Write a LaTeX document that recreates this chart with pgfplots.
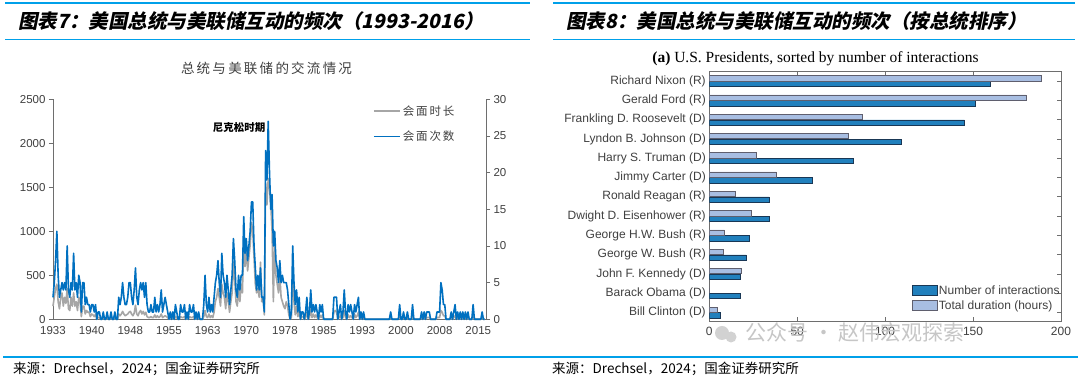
\documentclass[border=0pt]{standalone}
\usepackage{pgfplots}
\pgfplotsset{compat=1.18}
\usepackage{pgfplotstable}
\usepackage{fontspec}
\setmainfont{Liberation Sans}
\newfontfamily\cjk{Noto Sans CJK SC}
\newfontfamily\cjkh[FakeSlant=0.2]{Noto Sans CJK SC}
\newfontfamily\serif{Liberation Serif}
\definecolor{hdr}{RGB}{0,160,233}
\definecolor{labelgray}{RGB}{64,64,64}
\definecolor{axgray}{RGB}{110,110,110}
\definecolor{serblue}{RGB}{0,112,192}
\definecolor{sergray}{RGB}{166,166,166}
\definecolor{darkbar}{RGB}{33,128,189}
\definecolor{darkedge}{RGB}{25,55,85}
\definecolor{lightbar}{RGB}{168,190,226}
\definecolor{lightedge}{RGB}{95,95,110}
\pgfplotsset{
  linelegend/.style={legend image code/.code={\draw[##1] (0pt,0pt) -- (26pt,0pt);}},
  boxlegend/.style={legend image code/.code={\draw[##1] (0pt,-5pt) rectangle (25pt,5pt);}}
}
\pgfplotstableread[row sep=\\]{
dur cnt\\
150 3\\ 250 5\\ 350 8\\ 400 12\\
200 6\\ 120 3\\ 250 4\\ 300 5\\
150 4\\ 250 5\\ 180 4\\ 350 10\\
120 4\\ 100 3\\ 250 5\\ 150 4\\
300 9\\ 150 4\\ 200 5\\ 100 3\\
250 6\\ 200 5\\ 30 1\\ 150 5\\
150 5\\ 60 2\\ 100 3\\ 80 2\\
80 2\\ 30 1\\ 60 2\\ 50 2\\
30 1\\ 60 2\\ 0 0\\ 20 1\\
20 1\\ 0 0\\ 0 0\\ 20 1\\
0 0\\ 0 0\\ 20 1\\ 0 0\\
0 0\\ 20 1\\ 0 0\\ 0 0\\
20 1\\ 0 0\\ 0 0\\ 60 3\\
40 2\\ 60 3\\ 90 5\\ 60 3\\
40 2\\ 50 2\\ 60 3\\ 80 5\\
90 5\\ 60 3\\ 40 2\\ 70 4\\
160 7\\ 60 3\\ 40 2\\ 80 4\\
100 5\\ 60 4\\ 90 5\\ 50 3\\
80 5\\ 30 2\\ 20 1\\ 20 1\\
30 2\\ 20 1\\ 20 1\\ 50 3\\
20 1\\ 40 2\\ 20 1\\ 30 2\\
60 4\\ 20 1\\ 30 2\\ 40 3\\
30 2\\ 20 1\\ 0 0\\ 20 1\\
0 0\\ 20 1\\ 0 0\\ 30 2\\
20 1\\ 0 0\\ 0 0\\ 30 2\\
20 1\\ 20 1\\ 30 2\\ 0 0\\
20 1\\ 0 0\\ 30 2\\ 20 1\\
20 1\\ 30 2\\ 0 0\\ 20 1\\
0 0\\ 20 1\\ 0 0\\ 0 0\\
0 0\\ 30 2\\ 100 6\\ 30 2\\
20 1\\ 60 3\\ 20 1\\ 40 2\\
20 1\\ 80 3\\ 200 5\\ 250 6\\
350 8\\ 250 5\\ 150 3\\ 400 9\\
300 6\\ 250 5\\ 120 3\\ 300 6\\
200 4\\ 80 2\\ 200 4\\ 300 6\\
650 11\\ 450 8\\ 200 4\\ 150 3\\
350 6\\ 200 4\\ 400 6\\ 300 6\\
900 14\\ 600 9\\ 800 11\\ 550 8\\
700 10\\ 850 12\\ 1100 16\\ 1000 16\\
700 10\\ 400 7\\ 300 4\\ 350 6\\
250 4\\ 650 7\\ 200 3\\ 250 3\\
50 1\\ 1550 23\\ 1300 19\\ 1600 27\\
1500 20\\ 1300 15\\ 1000 17\\ 200 10\\
900 12\\ 500 8\\ 400 7\\ 300 5\\
500 8\\ 250 5\\ 200 6\\ 150 5\\
120 5\\ 200 5\\ 150 4\\ 50 2\\
0 0\\ 20 1\\ 500 10\\ 200 5\\
50 2\\ 150 4\\ 30 1\\ 100 3\\
0 0\\ 30 1\\ 30 1\\ 0 0\\
20 1\\ 80 3\\ 0 0\\ 20 1\\
120 4\\ 20 1\\ 60 2\\ 20 1\\
50 2\\ 20 1\\ 0 0\\ 50 2\\
20 1\\ 50 2\\ 0 0\\ 0 0\\
0 0\\ 0 0\\ 0 0\\ 0 0\\
0 0\\ 0 0\\ 80 3\\ 100 3\\
80 3\\ 0 0\\ 20 1\\ 40 2\\
0 0\\ 20 1\\ 100 4\\ 20 1\\
0 0\\ 50 2\\ 20 1\\ 40 2\\
20 1\\ 0 0\\ 60 2\\ 20 1\\
40 2\\ 80 3\\ 0 0\\ 20 1\\
0 0\\ 20 1\\ 0 0\\ 0 0\\
0 0\\ 0 0\\ 0 0\\ 0 0\\
0 0\\ 0 0\\ 0 0\\ 0 0\\
0 0\\ 0 0\\ 0 0\\ 0 0\\
0 0\\ 0 0\\ 0 0\\ 0 0\\
0 0\\ 0 0\\ 20 1\\ 0 0\\
0 0\\ 0 0\\ 0 0\\ 0 0\\
0 0\\ 40 2\\ 0 0\\ 0 0\\
20 1\\ 0 0\\ 0 0\\ 20 1\\
0 0\\ 0 0\\ 0 0\\ 40 2\\
0 0\\ 0 0\\ 0 0\\ 0 0\\
0 0\\ 0 0\\ 20 1\\ 0 0\\
20 1\\ 0 0\\ 20 1\\ 20 1\\
20 1\\ 0 0\\ 0 0\\ 0 0\\
0 0\\ 0 0\\ 20 1\\ 20 1\\
20 1\\ 100 5\\ 80 4\\ 40 2\\
40 2\\ 0 0\\ 0 0\\ 0 0\\
0 0\\ 20 1\\ 0 0\\ 20 1\\
40 2\\ 0 0\\ 20 1\\ 0 0\\
20 1\\ 0 0\\ 20 1\\ 0 0\\
20 1\\ 0 0\\ 20 1\\ 0 0\\
0 0\\ 0 0\\ 40 2\\ 0 0\\
0 0\\ 0 0\\ 0 0\\ 0 0\\
0 0\\ 20 1\\ 0 0\\ 0 0\\
}\fedtable
\pgfplotstableread[row sep=\\]{
pos inter dur\\
0 160 188.5\\
1 151 180\\
2 145 87\\
3 109 79\\
4 82 26.5\\
5 58.5 38\\
6 34 14.5\\
7 34 24\\
8 23 8.6\\
9 21 8.2\\
10 17.4 18.3\\
11 17.4 0\\
12 6.1 4.6\\
}\prestable
\begin{document}
\begin{tikzpicture}
\path[use as bounding box, fill=white] (0pt,0pt) rectangle (1080pt,382pt);
% header lines
\draw[hdr, line width=1.5pt] (5pt,379pt) -- (530pt,379pt);
\draw[hdr, line width=1.5pt] (5pt,342.5pt) -- (530pt,342.5pt);
\draw[hdr, line width=1.5pt] (553pt,379pt) -- (1075pt,379pt);
\draw[hdr, line width=1.5pt] (553pt,342.5pt) -- (1075pt,342.5pt);
\draw[hdr, line width=1.2pt] (3pt,25pt) -- (1078pt,25pt);
\node[anchor=west, inner sep=0] at (18pt,361pt) {\fontsize{19.5}{21}\selectfont\cjkh\bfseries 图表7：美国总统与美联储互动的频次（1993-2016）};
\node[anchor=west, inner sep=0] at (566pt,361pt) {\fontsize{19.5}{21}\selectfont\cjkh\bfseries 图表8：美国总统与美联储互动的频次（按总统排序）};
\node[anchor=west, inner sep=0] at (13pt,13pt) {\fontsize{13.5}{15}\selectfont\cjk 来源：Drechsel，2024；国金证券研究所};
\node[anchor=west, inner sep=0] at (552pt,13pt) {\fontsize{13.5}{15}\selectfont\cjk 来源：Drechsel，2024；国金证券研究所};
% left chart title
\node[text=labelgray] at (266.5pt,313.5pt) {\fontsize{13.5}{15}\selectfont\cjk 总\,统\,与\,美\,联\,储\,的\,交\,流\,情\,况};
% left chart: duration (left axis)
\begin{axis}[at={(53pt,62.7pt)}, anchor=south west, scale only axis,
  width=433pt, height=220pt, xmin=0, xmax=336, ymin=0, ymax=2500,
  axis x line*=bottom, axis y line*=left,
  xtick={0,30,...,330},
  xticklabels={1933,1940,1948,1955,1963,1970,1978,1985,1993,2000,2008,2015},
  ytick={0,500,...,2500},
  tick label style={font=\fontsize{11.5}{13}\selectfont, text=labelgray},
  axis line style={draw=axgray, line width=0.8pt},
  xtick style={draw=none}, ytick style={draw=axgray, line width=0.8pt},
  tick align=outside, major tick length=4pt,
  /pgf/number format/assume math mode=true,
  /pgf/number format/1000 sep={}, scaled y ticks=false,
  clip=false]
\addplot[sergray, line width=1.6pt, line join=round] table[x expr=\coordindex, y=dur]{\fedtable};
\end{axis}
% left chart: count (right axis)
\begin{axis}[at={(53pt,62.7pt)}, anchor=south west, scale only axis,
  width=433pt, height=220pt, xmin=0, xmax=336, ymin=0, ymax=30,
  axis x line=none, axis y line*=right,
  ytick={0,5,...,30},
  tick label style={font=\fontsize{11.5}{13}\selectfont, text=labelgray},
  axis line style={draw=axgray, line width=0.8pt},
  ytick style={draw=axgray, line width=0.8pt},
  tick align=outside, major tick length=4pt,
  /pgf/number format/assume math mode=true,
  legend style={draw=none, fill=none, at={(0.732,0.99)}, anchor=north west,
    font=\fontsize{11.5}{13}\selectfont\cjk, text=labelgray, row sep=10pt},
  legend cell align=left,
  linelegend,
  clip=false]
\addlegendimage{sergray, line width=1.6pt}
\addlegendentry{会\,面\,时\,长}
\addplot[serblue, line width=1.6pt, line join=round] table[x expr=\coordindex, y=cnt]{\fedtable};
\addlegendentry{会\,面\,次\,数}
\node[anchor=center, font=\fontsize{10.5}{12}\selectfont\cjk\bfseries] at (axis cs:144.5,26.2) {尼克松时期};
\end{axis}
% right chart title
\node at (815.5pt,323.5pt) {\fontsize{15.5}{17}\selectfont\serif\textbf{(a)} U.S. Presidents, sorted by number of interactions};
\begin{axis}[at={(709.3pt,60.8pt)}, anchor=south west, scale only axis,
  width=351.7pt, height=249.4pt, xbar, xmin=0, xmax=200,
  ymin=-0.48, ymax=12.45, y dir=reverse,
  ytick={0,...,12},
  yticklabels={Richard Nixon (R),Gerald Ford (R),Frankling D. Roosevelt (D),Lyndon B. Johnson (D),Harry S. Truman (D),Jimmy Carter (D),Ronald Reagan (R),Dwight D. Eisenhower (R),George H.W. Bush (R),George W. Bush (R),John F. Kennedy (D),Barack Obama (D),Bill Clinton (D)},
  xtick={0,50,100,150,200},
  tick label style={font=\fontsize{12}{14}\selectfont, text=labelgray},
  xticklabel style={yshift=-2pt},
  axis line style={draw=axgray, line width=0.8pt},
  tick style={draw=axgray, line width=0.6pt},
  tick align=inside, major tick length=4pt,
  /pgf/number format/assume math mode=true,
  bar width=5.3pt,
  legend style={draw=none, fill=none, at={(0.577,0.025)}, anchor=south west,
    font=\fontsize{12}{13}\selectfont, text=labelgray, row sep=1pt,
    inner xsep=0pt, nodes={inner xsep=1pt}},
  legend cell align=left]
\addplot[fill=darkbar, draw=darkedge, line width=0.5pt, bar shift=-2.85pt, boxlegend]
  table[x=inter, y=pos]{\prestable};
\addlegendentry{Number of interactions}
\addplot[fill=lightbar, draw=lightedge, line width=0.5pt, bar shift=2.85pt, boxlegend]
  table[x=dur, y=pos]{\prestable};
\addlegendentry{Total duration (hours)}
\end{axis}
% watermark
\fill[gray!35] (722pt,49pt) circle (7pt);
\fill[gray!35] (731pt,45pt) circle (5.5pt);
\node[text=gray!45, anchor=west] at (742pt,50pt) {\fontsize{21}{23}\selectfont\cjk 公众号 · 赵伟宏观探索};
\end{tikzpicture}
\end{document}
